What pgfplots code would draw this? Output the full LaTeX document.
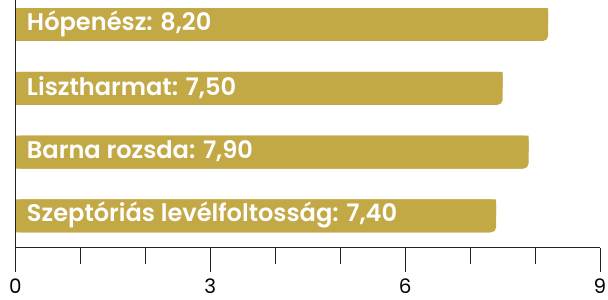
\documentclass[border=0pt]{standalone}
\usepackage{pgfplots}
\pgfplotsset{compat=1.18}
\usepackage{fontspec}
\setmainfont{Poppins}[BoldFont={Poppins SemiBold}]
\definecolor{bargold}{HTML}{C3A846}
\definecolor{axcol}{HTML}{222222}
\begin{document}
\begin{tikzpicture}
\begin{axis}[name=ax, scale only axis, width=585bp, height=248bp,
 xmin=0, xmax=9, ymin=-0.5, ymax=3.384,
 axis x line=bottom, axis y line=left,
 axis line style={-, line width=1.2bp, color=axcol},
 xtick={0,3,6,9}, minor xtick={1,2,4,5,7,8},
 tick align=outside, major tick length=24bp, minor tick length=16bp,
 tick style={line width=1bp, color=axcol},
 ytick=\empty,
 xticklabel style={font=\fontsize{20}{20}\selectfont, text=black, yshift=-4bp},
 /pgf/number format/assume math mode=true,
 axis on top]
\addplot[xbar, bar width=0.517, fill=bargold, draw=none, rounded corners=5bp] coordinates {(7.4,0) (7.9,1) (7.5,2) (8.2,3)};
\addplot[xbar, bar width=0.2585, bar shift=0.12925, fill=bargold, draw=none] coordinates {(7.4,0) (7.9,1) (7.5,2) (8.2,3)};
\addplot[xbar, bar width=0.2585, bar shift=-0.12925, fill=bargold, draw=none, xshift=-6bp] coordinates {(7.4,0) (7.9,1) (7.5,2) (8.2,3)};
\begin{scope}[every node/.style={anchor=west, xshift=8bp, yshift=0.5bp, text=white, font=\fontsize{24.2}{24}\selectfont\bfseries}]
\node at (axis cs:0,3) {Hópenész: 8,20};
\node at (axis cs:0,2) {Lisztharmat: 7,50};
\node at (axis cs:0,1) {Barna rozsda: 7,90};
\node at (axis cs:0,0) {Szeptóriás levélfoltosság: 7,40};
\end{scope}
\end{axis}
\pgfresetboundingbox
\path ([shift={(-15.5bp,-52bp)}]ax.south west) rectangle ([shift={(8bp,0bp)}]ax.north east);
\end{tikzpicture}
\end{document}
